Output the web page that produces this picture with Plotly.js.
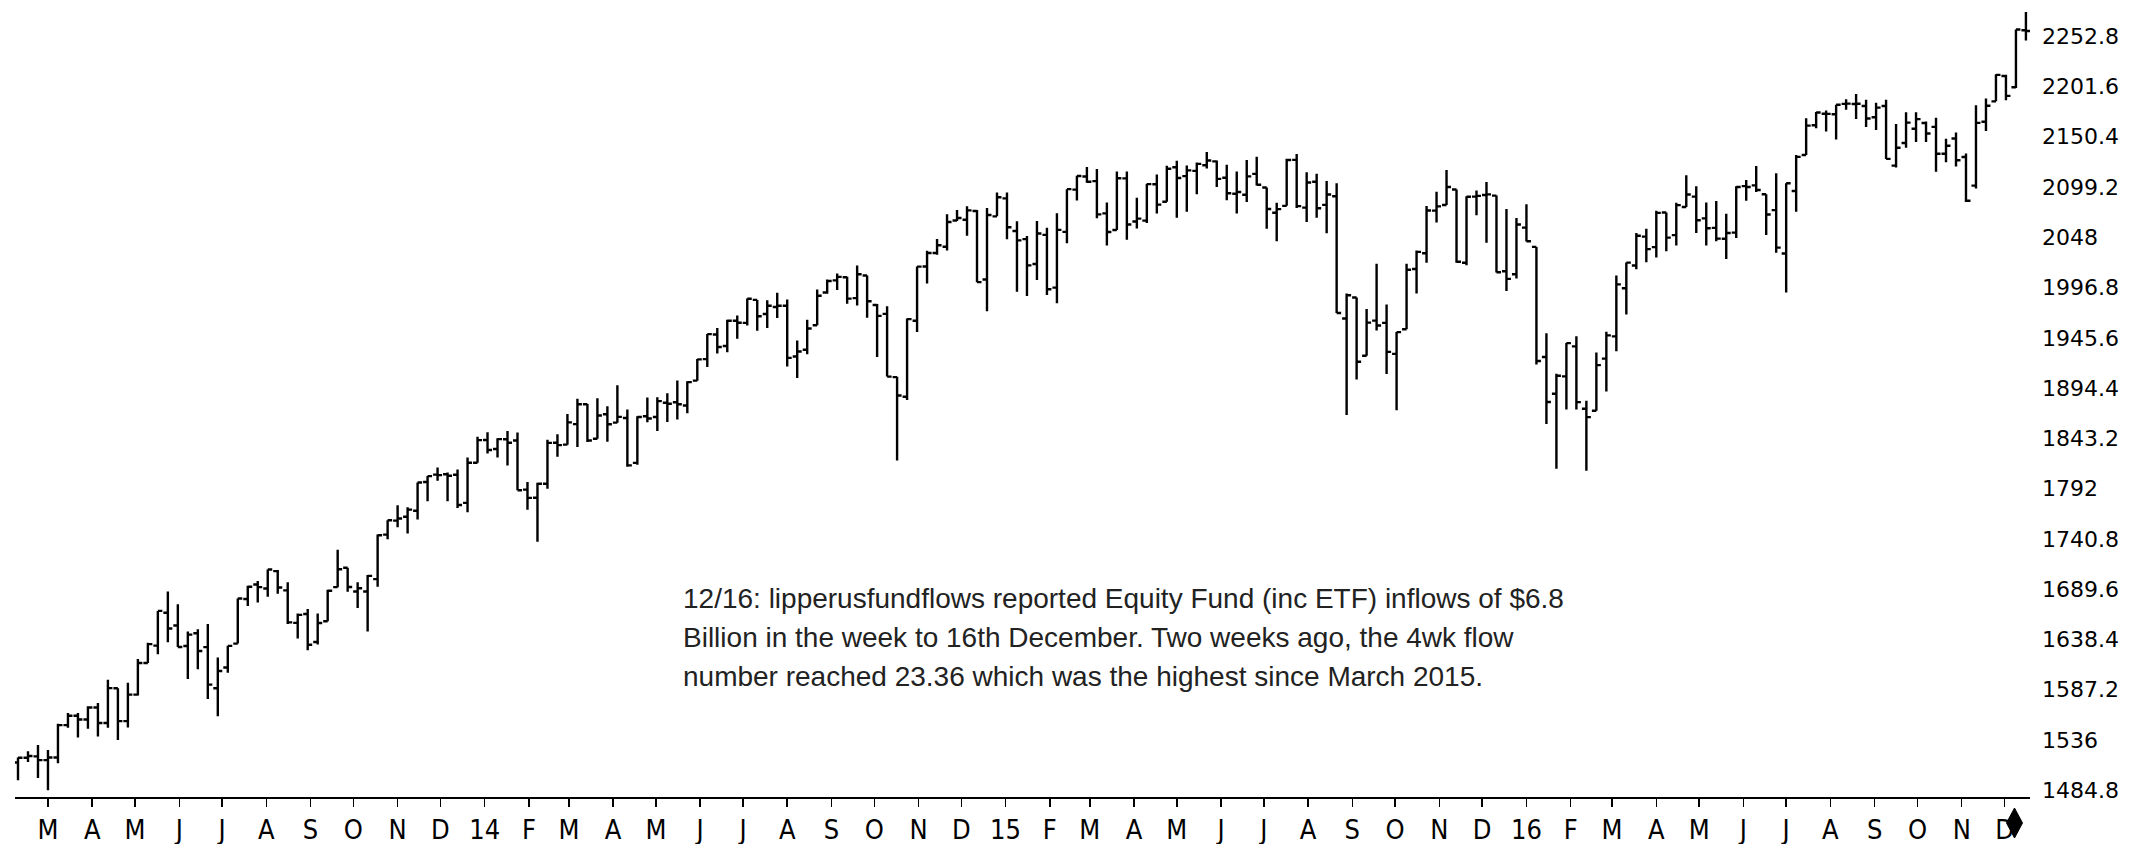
<!DOCTYPE html>
<html>
<head>
<meta charset="utf-8">
<script src="https://cdn.plot.ly/plotly-3.0.1.min.js"></script>
<style>
  html, body { margin: 0; padding: 0; background: #ffffff; }
  #chart { width: 2148px; height: 844px; }
</style>
</head>
<body>
<div id="chart"></div>
<script>
// ---- Weekly S&P 500 bars (week ending Friday) ----
const firstWeekEnding = "2013-02-08";

const open2013 = [1513.2,1517.9,1519.4,1515.6,1518.2,1551.2,1560.7,1556.9,1569.2,1553.3,1588.8,1555.3,1582.3,1614.4,1632.1,1665.7,1652.6,1631.7,1644.7,1630.6,1588.8,1609.8,1634.2,1679.6,1694.4,1690.3,1708.0,1688.4,1655.3,1664.3,1635.9,1656.9,1691.7,1711.4,1687.3,1687.2,1699.9,1745.2,1759.4,1763.4,1769.5,1798.8,1806.3,1806.6,1806.2,1777.5,1818.3,1841.5];
const high2013 = [1518.3,1524.7,1530.9,1525.8,1552.5,1563.6,1563.6,1570.3,1573.7,1597.4,1588.8,1594.4,1618.5,1635.0,1667.5,1687.2,1674.2,1646.5,1648.7,1654.2,1620.1,1632.1,1680.2,1693.1,1698.0,1709.7,1709.2,1696.8,1664.9,1669.5,1664.8,1689.0,1729.9,1711.4,1696.6,1704.0,1745.3,1759.8,1775.2,1773.0,1798.2,1804.8,1813.6,1808.4,1811.5,1823.8,1844.9,1849.4];
const low2013  = [1495.0,1513.6,1497.3,1485.0,1512.3,1548.4,1538.6,1547.4,1539.5,1548.6,1536.0,1548.9,1581.3,1614.4,1623.4,1635.5,1630.7,1598.2,1608.1,1577.7,1560.3,1604.6,1634.2,1672.6,1676.0,1681.9,1684.9,1654.2,1639.4,1627.5,1633.4,1656.9,1691.7,1687.1,1670.4,1646.5,1692.1,1740.5,1752.7,1746.2,1760.6,1779.1,1800.0,1779.1,1772.3,1768.0,1818.3,1827.7];
const close2013= [1517.9,1519.8,1515.6,1518.2,1551.2,1560.7,1556.9,1569.2,1553.3,1588.9,1555.3,1582.2,1614.4,1633.7,1667.5,1649.6,1630.7,1643.4,1626.7,1592.4,1606.3,1631.9,1680.2,1692.1,1691.7,1709.7,1691.4,1655.8,1663.5,1633.0,1655.2,1688.0,1709.9,1691.8,1690.5,1703.2,1744.5,1759.8,1761.6,1770.6,1798.2,1804.8,1805.8,1805.1,1775.3,1818.3,1841.4,1831.4];

const open2014 = [1832.3,1842.3,1841.1,1791.0,1782.7,1797.0,1838.8,1836.8,1857.7,1877.9,1842.8,1867.7,1859.2,1863.9,1818.2,1865.8,1865.0,1879.5,1880.0,1876.7,1902.0,1923.9,1949.0,1937.2,1962.9,1960.8,1984.2,1969.9,1976.9,1978.3,1926.6,1933.4,1958.4,1991.7,2004.1,2007.2,1986.0,2009.1,1979.0,1970.0,1905.6,1885.6,1963.0,2018.2,2032.0,2038.3,2065.1,2065.8,2074.8,2005.0,2069.3,2087.6];
const high2014 = [1843.2,1850.8,1849.3,1798.8,1798.0,1841.7,1847.5,1867.9,1883.6,1878.3,1884.0,1875.9,1897.3,1872.5,1865.8,1884.9,1885.2,1889.1,1902.2,1901.3,1924.0,1949.4,1955.6,1963.9,1968.2,1985.6,1984.2,1983.9,1991.4,1984.6,1942.9,1964.1,1994.8,2005.0,2011.2,2007.7,2019.3,2009.1,1980.0,1977.8,1906.0,1965.3,2018.2,2034.3,2046.2,2071.5,2075.8,2079.5,2075.8,2077.9,2093.6,2093.6];
const low2014  = [1823.7,1815.5,1790.3,1770.5,1737.9,1792.0,1824.6,1836.8,1834.4,1839.6,1842.8,1839.8,1859.2,1814.4,1816.3,1859.7,1850.6,1859.8,1862.4,1868.8,1902.0,1916.0,1929.6,1930.9,1944.7,1958.2,1952.9,1955.6,1965.8,1916.3,1904.8,1928.8,1958.4,1990.5,1994.3,1980.3,1978.5,1966.0,1926.0,1906.1,1820.7,1882.3,1951.4,2001.0,2030.2,2034.5,2064.6,2049.6,2002.3,1972.6,2069.3,2046.0];
const close2014= [1842.4,1838.7,1790.3,1782.6,1797.0,1838.6,1836.3,1859.5,1878.0,1841.1,1866.5,1857.6,1865.1,1815.7,1864.9,1863.4,1881.1,1878.5,1877.9,1900.5,1923.6,1949.4,1936.2,1962.9,1961.0,1985.4,1967.6,1978.2,1978.3,1925.2,1931.6,1955.1,1988.4,2003.4,2007.7,1985.5,2010.4,1982.9,1967.9,1906.1,1886.8,1964.6,2018.1,2031.9,2039.8,2063.5,2067.6,2075.4,2002.3,2070.7,2088.8,2058.2];

const open2015 = [2054.4,2046.1,2020.8,2050.4,1996.7,2053.5,2096.5,2109.8,2105.2,2072.3,2055.4,2108.0,2064.1,2064.9,2102.0,2084.1,2119.3,2110.2,2115.6,2121.3,2125.3,2108.6,2092.3,2091.3,2112.5,2098.6,2073.0,2080.0,2126.8,2078.2,2104.5,2081.0,2089.7,1965.2,1986.7,1927.3,1963.1,1960.8,1929.2,1954.3,2015.7,2031.7,2075.1,2080.8,2096.6,2022.1,2089.4,2091.0,2090.4,2013.4,2010.3,2057.8];
const high2015 = [2064.4,2049.3,2064.6,2057.6,2072.4,2097.0,2110.6,2119.6,2117.5,2083.5,2114.9,2114.9,2088.2,2102.6,2111.9,2120.9,2125.9,2121.0,2124.1,2134.7,2126.2,2121.9,2115.0,2126.6,2129.9,2098.6,2083.2,2128.0,2132.8,2114.2,2112.7,2105.4,2102.9,1990.7,1986.7,1975.0,2020.9,1979.6,1951.4,2020.9,2034.5,2079.7,2094.3,2116.5,2096.6,2089.8,2095.6,2104.3,2090.4,2076.7,2067.6,2081.6];
const low2015  = [1992.4,1988.1,2004.5,1989.2,1980.9,2041.9,2085.4,2103.6,2067.3,2039.7,2055.4,2045.5,2056.8,2062.6,2072.1,2084.1,2067.9,2074.0,2091.9,2118.1,2099.2,2085.7,2072.1,2084.0,2100.8,2056.6,2044.0,2080.0,2077.8,2063.5,2067.9,2052.1,1970.9,1867.0,1903.1,1927.3,1953.0,1908.8,1871.9,1954.3,1990.7,2022.0,2063.0,2080.8,2022.1,2019.4,2070.3,2042.4,2012.0,1993.3,2005.9,2043.6];
const close2015= [2044.8,2019.4,2051.8,1995.0,2055.5,2097.0,2110.3,2104.5,2071.3,2053.4,2108.1,2061.0,2067.0,2102.1,2081.2,2117.7,2108.3,2116.1,2122.7,2126.1,2107.4,2092.8,2094.1,2110.0,2101.5,2076.8,2076.6,2126.6,2079.7,2103.8,2077.6,2091.5,1970.9,1988.9,1921.2,1961.1,1958.1,1931.3,1951.4,2014.9,2033.1,2075.2,2079.4,2099.2,2023.0,2089.2,2090.1,2091.7,2012.4,2005.6,2061.0,2043.9];

const open2016 = [2038.2,1926.1,1888.7,1906.3,1936.9,1873.3,1871.4,1924.4,1947.1,1996.1,2019.3,2048.6,2037.9,2073.2,2050.2,2078.8,2089.4,2067.2,2057.6,2046.5,2052.7,2100.1,2100.8,2091.8,2075.6,2031.5,2095.1,2131.7,2162.0,2173.7,2173.2,2183.8,2183.7,2181.6,2170.2,2181.6,2120.9,2144.0,2158.5,2164.3,2160.4,2133.0,2148.5,2129.8,2100.6,2165.6,2186.4,2212.2,2200.7,2258.8];
const high2016 = [2038.2,1950.3,1908.9,1940.2,1947.2,1881.6,1930.7,1951.8,2009.1,2022.4,2052.4,2056.6,2075.1,2073.2,2083.1,2111.1,2099.9,2083.4,2084.9,2071.9,2099.9,2106.2,2120.6,2091.8,2113.3,2103.0,2131.7,2169.1,2175.6,2177.1,2182.9,2188.5,2193.8,2187.9,2184.9,2187.9,2163.3,2175.3,2175.3,2165.9,2169.6,2148.4,2154.8,2133.3,2182.3,2189.3,2214.1,2213.6,2259.5,2277.5];
const low2016  = [1918.5,1857.8,1812.3,1872.7,1872.7,1810.1,1871.4,1891.0,1931.8,1969.3,2015.4,2022.5,2027.5,2033.8,2039.7,2078.8,2052.3,2039.5,2044.0,2025.9,2047.3,2085.1,2094.2,2050.4,2032.1,1991.7,2074.0,2131.7,2159.0,2155.8,2147.6,2177.9,2168.5,2160.4,2157.1,2127.8,2119.1,2139.2,2145.0,2144.9,2114.7,2124.4,2120.1,2083.8,2097.6,2156.1,2186.4,2187.4,2200.0,2248.4];
const close2016= [1922.0,1880.3,1906.9,1940.2,1880.1,1864.8,1917.8,1948.1,2000.0,2022.2,2049.6,2035.9,2072.8,2047.6,2080.7,2091.6,2065.3,2057.1,2046.6,2052.3,2099.1,2099.1,2096.1,2071.2,2037.4,2103.0,2129.9,2161.7,2175.0,2173.6,2182.9,2184.1,2183.9,2169.0,2180.0,2127.8,2139.2,2164.7,2168.3,2153.7,2133.0,2141.2,2126.4,2085.2,2164.5,2181.9,2213.4,2192.0,2259.5,2258.1];

// y-axis tick values and their labels
const yTickVals   = [1484.8,1536,1587.2,1638.4,1689.6,1740.8,1792,1843.2,1894.4,1945.6,1996.8,2048,2099.2,2150.4,2201.6,2252.8];
const yTickLabels = ["1484.8","1536","1587.2","1638.4","1689.6","1740.8","1792","1843.2","1894.4","1945.6","1996.8","2048","2099.2","2150.4","2201.6","2252.8"];

// x-axis: first day of each month and its label
const monthTickDates = ["2013-03-01","2013-04-01","2013-05-01","2013-06-01","2013-07-01","2013-08-01","2013-09-01","2013-10-01","2013-11-01","2013-12-01",
  "2014-01-01","2014-02-01","2014-03-01","2014-04-01","2014-05-01","2014-06-01","2014-07-01","2014-08-01","2014-09-01","2014-10-01","2014-11-01","2014-12-01",
  "2015-01-01","2015-02-01","2015-03-01","2015-04-01","2015-05-01","2015-06-01","2015-07-01","2015-08-01","2015-09-01","2015-10-01","2015-11-01","2015-12-01",
  "2016-01-01","2016-02-01","2016-03-01","2016-04-01","2016-05-01","2016-06-01","2016-07-01","2016-08-01","2016-09-01","2016-10-01","2016-11-01","2016-12-01"];
const monthTickLabels = ["M","A","M","J","J","A","S","O","N","D",
  "14","F","M","A","M","J","J","A","S","O","N","D",
  "15","F","M","A","M","J","J","A","S","O","N","D",
  "16","F","M","A","M","J","J","A","S","O","N","D"];

const noteLines = [
  "12/16: lipperusfundflows reported Equity Fund (inc ETF) inflows of $6.8",
  "Billion in the week to 16th December. Two weeks ago, the 4wk flow",
  "number reached 23.36 which was the highest since March 2015."
];

// current-date marker under the axis
const markerDate = "2016-12-08";

// ---- assemble ----
const opens  = open2013.concat(open2014, open2015, open2016);
const highs  = high2013.concat(high2014, high2015, high2016);
const lows   = low2013.concat(low2014, low2015, low2016);
const closes = close2013.concat(close2014, close2015, close2016);

const weekDates = [];
{
  const d0 = new Date(firstWeekEnding + "T00:00:00Z");
  for (let i = 0; i < opens.length; i++) {
    const d = new Date(d0.getTime() + i * 7 * 86400000);
    weekDates.push(d.toISOString().slice(0, 10));
  }
}

const bars = {
  type: "ohlc",
  x: weekDates,
  open: opens, high: highs, low: lows, close: closes,
  increasing: { line: { color: "#000000", width: 2.4 } },
  decreasing: { line: { color: "#000000", width: 2.4 } },
  tickwidth: 0.45,
  hoverinfo: "skip",
  showlegend: false
};

const plotLeft = 15, plotWidth = 2015, plotHeight = 797;
const noteX = (681 - plotLeft) / plotWidth;
const noteYs = [598, 637, 676].map(p => 1 - p / plotHeight);

const annotations = noteLines.map((t, i) => ({
  text: t, xref: "paper", yref: "paper",
  x: noteX, y: noteYs[i], xanchor: "left", yanchor: "middle",
  showarrow: false, align: "left",
  font: { family: "Liberation Sans, Arial, sans-serif", size: 28, color: "#222222" }
}));

const shapes = [{
  type: "path",
  xref: "x", yref: "paper",
  xsizemode: "pixel", ysizemode: "pixel",
  xanchor: markerDate, yanchor: 1 - 823 / plotHeight,
  path: "M0,-15 L8,0 L0,15 L-8,0 Z",
  fillcolor: "#000000", line: { color: "#000000", width: 1 },
  layer: "above"
}];

const layout = {
  width: 2148, height: 844,
  margin: { l: plotLeft, r: 2148 - plotLeft - plotWidth, t: 0, b: 844 - plotHeight, pad: 0 },
  paper_bgcolor: "#ffffff", plot_bgcolor: "#ffffff",
  showlegend: false,
  hovermode: false,
  xaxis: {
    type: "date",
    range: ["2013-02-05 21:30", "2016-12-18 20:30"],
    rangeslider: { visible: false },
    showgrid: false, zeroline: false,
    showline: true, linecolor: "#000000", linewidth: 2,
    ticks: "outside", ticklen: 8, tickwidth: 1.5, tickcolor: "#000000",
    tickmode: "array", tickvals: monthTickDates, ticktext: monthTickLabels,
    tickfont: { family: "Liberation Sans Narrow, DejaVu Sans Condensed, Liberation Sans, sans-serif", size: 27, color: "#000000" },
    fixedrange: true
  },
  yaxis: {
    side: "right",
    range: [1478.0, 2289.6],
    showgrid: false, zeroline: false, showline: false,
    ticks: "",
    tickmode: "array", tickvals: yTickVals, ticktext: yTickLabels,
    ticklabelstandoff: 11,
    tickfont: { family: "DejaVu Sans, sans-serif", size: 22, color: "#000000" },
    fixedrange: true
  },
  shapes: shapes,
  annotations: annotations
};

Plotly.newPlot("chart", [bars], layout, { staticPlot: true, displayModeBar: false });
</script>
</body>
</html>
